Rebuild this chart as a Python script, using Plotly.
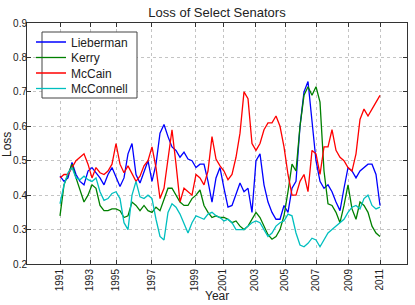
import plotly.graph_objects as go

# sample index (evenly spaced observations)
n_points = 81
idx = list(range(n_points))

tick_positions = [0, 7.5, 14, 22.9, 33.75, 40.8, 48.75, 56.25, 64, 72.1, 80]
tick_labels = ["1991", "1993", "1995", "1997", "1999", "2001", "2003", "2005", "2007", "2009", "2011"]

lieberman = [0.455, 0.44, 0.45, 0.495, 0.46, 0.44, 0.43, 0.47, 0.48, 0.465,
             0.45, 0.43, 0.46, 0.48, 0.45, 0.425, 0.45, 0.52, 0.55, 0.46,
             0.435, 0.47, 0.50, 0.44, 0.49, 0.58, 0.605, 0.57, 0.54, 0.53,
             0.51, 0.525, 0.505, 0.50, 0.48, 0.49, 0.49, 0.44, 0.38, 0.45,
             0.48, 0.42, 0.365, 0.37, 0.40, 0.435, 0.41, 0.42, 0.35, 0.50,
             0.52, 0.43, 0.38, 0.35, 0.33, 0.33, 0.37, 0.35, 0.42, 0.44,
             0.60, 0.70, 0.73, 0.62, 0.50, 0.44, 0.42, 0.43, 0.41, 0.38,
             0.355, 0.42, 0.48, 0.47, 0.45, 0.47, 0.48, 0.49, 0.49, 0.46,
             0.37]

kerry = [0.34, 0.43, 0.46, 0.49, 0.45, 0.415, 0.38, 0.40, 0.43, 0.42,
         0.37, 0.355, 0.355, 0.36, 0.36, 0.355, 0.335, 0.34, 0.38, 0.37,
         0.355, 0.37, 0.355, 0.35, 0.365, 0.355, 0.39, 0.42, 0.42, 0.40,
         0.38, 0.37, 0.37, 0.39, 0.40, 0.415, 0.37, 0.35, 0.335, 0.34,
         0.335, 0.335, 0.33, 0.32, 0.325, 0.31, 0.30, 0.31, 0.33, 0.35,
         0.335, 0.31, 0.285, 0.272, 0.28, 0.30, 0.34, 0.41, 0.49, 0.47,
         0.60, 0.69, 0.715, 0.69, 0.715, 0.67, 0.47, 0.375, 0.37, 0.35,
         0.32, 0.37, 0.43, 0.36, 0.33, 0.38, 0.37, 0.35, 0.31, 0.29,
         0.28]

mccain = [0.45, 0.46, 0.46, 0.48, 0.50, 0.51, 0.52, 0.49, 0.45, 0.48,
          0.465, 0.46, 0.47, 0.49, 0.55, 0.49, 0.465, 0.485, 0.46, 0.44,
          0.455, 0.485, 0.50, 0.54, 0.48, 0.39, 0.42, 0.51, 0.59, 0.49,
          0.38, 0.42, 0.41, 0.40, 0.46, 0.45, 0.43, 0.47, 0.57, 0.505,
          0.485, 0.47, 0.445, 0.46, 0.51, 0.58, 0.70, 0.68, 0.55, 0.53,
          0.55, 0.59, 0.61, 0.61, 0.63, 0.60, 0.54, 0.46, 0.40, 0.40,
          0.44, 0.46, 0.41, 0.53, 0.52, 0.46, 0.54, 0.54, 0.59, 0.53,
          0.51, 0.50, 0.48, 0.47, 0.52, 0.62, 0.65, 0.63, 0.65, 0.67,
          0.69]

mcconnell = [0.375, 0.43, 0.465, 0.48, 0.45, 0.445, 0.455, 0.445, 0.44, 0.45,
             0.41, 0.385, 0.39, 0.405, 0.41, 0.39, 0.32, 0.30, 0.40, 0.44,
             0.395, 0.39, 0.40, 0.39, 0.33, 0.28, 0.27, 0.35, 0.375, 0.365,
             0.345, 0.32, 0.29, 0.32, 0.34, 0.335, 0.33, 0.345, 0.35, 0.34,
             0.335, 0.325, 0.33, 0.32, 0.30, 0.30, 0.30, 0.31, 0.32, 0.325,
             0.32, 0.30, 0.28, 0.29, 0.31, 0.32, 0.325, 0.345, 0.34, 0.29,
             0.255, 0.25, 0.26, 0.275, 0.27, 0.25, 0.27, 0.29, 0.30, 0.31,
             0.32, 0.33, 0.35, 0.365, 0.37, 0.36, 0.39, 0.40, 0.37, 0.36,
             0.365]

series = [
    ("Lieberman", lieberman, "rgb(0,0,255)"),
    ("Kerry", kerry, "rgb(0,128,0)"),
    ("McCain", mccain, "rgb(255,0,0)"),
    ("McConnell", mcconnell, "rgb(0,191,191)"),
]

FONT = "Liberation Sans, Arial, Helvetica, sans-serif"

# plot area in pixels (for placing legend / labels)
W, H = 415, 305
ML, MR, MT, MB = 27, 8, 23, 41
PW, PH = W - ML - MR, H - MT - MB


def px_x(px):
    return (px - ML) / PW


def px_y(py):
    return (H - MB - py) / PH


legend_names = ["legend", "legend2", "legend3", "legend4"]
legend_rows_px = [42, 57.5, 73, 88.5]

fig = go.Figure()
for (name, vals, color), lg in zip(series, legend_names):
    fig.add_trace(go.Scatter(x=idx, y=vals, mode="lines", name=name, legend=lg,
                             line=dict(color=color, width=1.3)))

axis_common = dict(
    showline=True, linecolor="#333", linewidth=1, mirror="ticks",
    ticks="inside", ticklen=4, tickcolor="#333", automargin=False,
    showgrid=True, gridcolor="#c4c4c4", griddash="dot", gridwidth=1,
    zeroline=False, tickfont=dict(family=FONT, size=10, color="#222"),
)

legend_layout = {}
for lg, py in zip(legend_names, legend_rows_px):
    legend_layout[lg] = dict(
        x=px_x(31), y=px_y(py), xanchor="left", yanchor="middle",
        bgcolor="rgba(0,0,0,0)", borderwidth=0,
        font=dict(family=FONT, size=12, color="#222"),
        itemwidth=30, itemclick=False, itemdoubleclick=False,
    )

fig.update_layout(
    width=W, height=H,
    margin=dict(l=ML, r=MR, t=MT, b=MB, autoexpand=False),
    paper_bgcolor="white", plot_bgcolor="white",
    font=dict(family=FONT, color="#222"),
    title=dict(text="Loss of Select Senators", x=0.5, xref="paper",
               y=1 - 12 / H, yanchor="middle",
               font=dict(family=FONT, size=13, color="#222")),
    showlegend=True,
    xaxis=dict(range=[-8.25, 86.75], tickmode="array",
               tickvals=tick_positions, ticktext=tick_labels,
               tickangle=-90, **axis_common),
    yaxis=dict(range=[0.2, 0.9], dtick=0.1, tickformat=".1f",
               ticklabelstandoff=-3, **axis_common),
    shapes=[dict(type="rect", xref="paper", yref="paper",
                 x0=px_x(42), x1=px_x(137), y0=px_y(98), y1=px_y(32),
                 line=dict(color="#444", width=1), fillcolor="white", layer="above")],
    annotations=[
        dict(text="Year", xref="paper", yref="paper", x=0.5, y=px_y(296),
             xanchor="center", yanchor="middle", showarrow=False,
             font=dict(family=FONT, size=12, color="#222")),
        dict(text="Loss", xref="paper", yref="paper", x=px_x(7), y=px_y(145),
             xanchor="center", yanchor="middle", textangle=-90, showarrow=False,
             font=dict(family=FONT, size=12, color="#222")),
    ],
    **legend_layout,
)

fig.write_html("out.html", config={"displayModeBar": False},
               post_script="document.body.style.margin='0px';")
